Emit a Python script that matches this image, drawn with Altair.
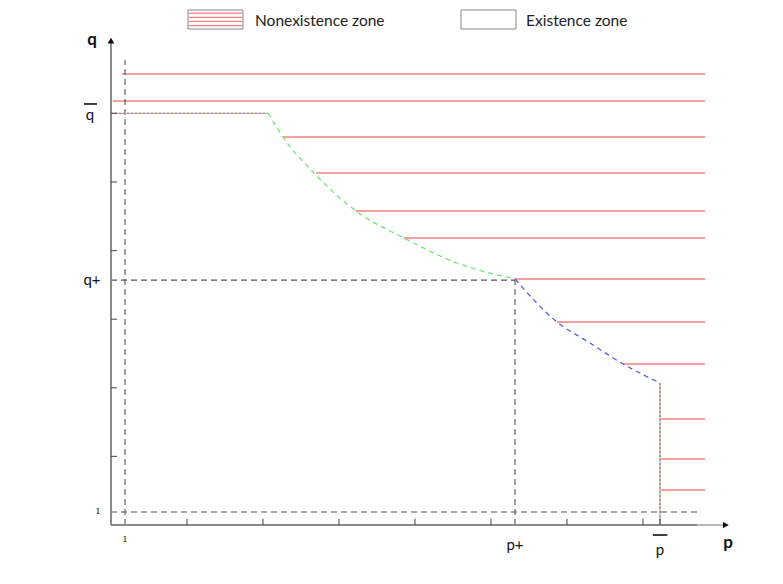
import altair as alt
import pandas as pd

# ---- values (abstract p / q units; 1 tick = 1 unit) ----
p_one, q_one = 0.184, 0.19          # positions of the "1" reference lines
p_plus, q_plus = 5.316, 3.57
p_bar, q_bar = 7.224, 6.0
x_ticks = [1, 2, 3, 4, 5, 6, 7]
y_ticks = [1, 2, 3, 4, 5, 6]

# nonexistence-zone hatch lines: height and left start (all end at red_end)
red_q = [6.574, 6.181, 5.656, 5.131, 4.577, 4.184, 3.586, 2.959, 2.347, 1.545, 0.962, 0.510]
red_start = [0.145, 0.026, 2.263, 2.697, 3.224, 3.855, 5.316, 5.868, 6.737, 7.237, 7.237, 7.237]
red_end = 7.816

# boundary curves
green_p = [2.066, 2.263, 2.671, 3.224, 3.855, 4.553, 5.316]
green_q = [6.006, 5.656, 5.131, 4.577, 4.184, 3.819, 3.586]
blue_p = [5.316, 5.868, 6.303, 6.737, 7.224]
blue_q = [3.586, 2.959, 2.653, 2.347, 2.070]

XD = [-1.3553, 8.737]
YD = [-0.7434, 7.536]
xs = alt.Scale(domain=XD, nice=False, zero=False)
ys = alt.Scale(domain=YD, nice=False, zero=False)


def seg(rows):
    return pd.DataFrame(rows, columns=["x", "x2", "y", "y2"])


def rules(df, **kw):
    return alt.Chart(df).mark_rule(**kw).encode(
        x=alt.X("x:Q", scale=xs, axis=None),
        x2="x2:Q",
        y=alt.Y("y:Q", scale=ys, axis=None),
        y2="y2:Q",
    )


layers = []

# red hatch lines
red_df = seg([[s, red_end, q, q] for s, q in zip(red_start, red_q)])
layers.append(rules(red_df, color="#f47f7f", strokeWidth=1.6))

# gray dashed guides
dash_df = seg([
    [p_one, p_one, 0, 6.778],
    [0, p_plus, q_plus, q_plus],
    [p_plus, p_plus, 0, q_plus],
    [0, 7.71, q_one, q_one],
])
layers.append(rules(dash_df, color="#555555", strokeWidth=1.1, strokeDash=[6, 4]))

# multicolour dotted boundary (top flat and right vertical)
dot_df = seg([[0, green_p[0], q_bar, q_bar], [p_bar, p_bar, 0, blue_q[-1]]])
layers.append(rules(dot_df, color="#e8b070", strokeWidth=1.4))
layers.append(rules(dot_df, color="#7f8fe8", strokeWidth=1.4, strokeDash=[2, 2]))

# curves
gdf = pd.DataFrame({"x": green_p, "y": green_q, "o": range(len(green_p))})
bdf = pd.DataFrame({"x": blue_p, "y": blue_q, "o": range(len(blue_p))})
for df, col in [(gdf, "#6fe86f"), (bdf, "#5a5af0")]:
    layers.append(alt.Chart(df).mark_line(color=col, strokeWidth=1.3, strokeDash=[5, 4],
                                          interpolate="monotone").encode(
        x=alt.X("x:Q", scale=xs, axis=None), y=alt.Y("y:Q", scale=ys, axis=None), order="o:Q"))

# axes
axis_df = seg([[0, 0, 0, 7.03], [0, 7.71, 0, 0]])
layers.append(rules(axis_df, color="#8a8a8a", strokeWidth=2))
layers.append(rules(seg([[7.71, 8.05, 0, 0]]), color="#8a8a8a", strokeWidth=1.2))
tick_df = seg([[t, t, 0, 0.09] for t in x_ticks + [p_bar]] + [[0, 0.08, t, t] for t in y_ticks])
layers.append(rules(tick_df, color="#555555", strokeWidth=1.1))

# arrow heads
arr = pd.DataFrame({"x": [0, 8.09], "y": [7.06, 0], "s": ["triangle-up", "triangle-right"]})
layers.append(alt.Chart(arr).mark_point(filled=True, color="#111111", size=45, opacity=1).encode(
    x=alt.X("x:Q", scale=xs, axis=None), y=alt.Y("y:Q", scale=ys, axis=None),
    shape=alt.Shape("s:N", scale=None)))

# overlines for q-bar and p-bar labels
ov_df = seg([[-0.355, -0.184, 6.137, 6.137], [7.13, 7.32, -0.146, -0.146]])
layers.append(rules(ov_df, color="#111111", strokeWidth=1.6))


def texts(df, **kw):
    return alt.Chart(df).mark_text(**kw).encode(
        x=alt.X("x:Q", scale=xs, axis=None), y=alt.Y("y:Q", scale=ys, axis=None), text="t:N")


FONT = "Lato"
bold = pd.DataFrame({"x": [-0.25, 8.118], "y": [7.07, -0.262], "t": ["q", "p"]})
layers.append(texts(bold, font=FONT, fontSize=17, fontWeight="bold", color="#111111", baseline="middle"))
reg = pd.DataFrame({"x": [-0.276, -0.25, p_plus, p_bar], "y": [5.98, q_plus, -0.29, -0.36],
                    "t": ["q", "q+", "p+", "p"]})
layers.append(texts(reg, font=FONT, fontSize=15, color="#111111", baseline="middle"))
ones = pd.DataFrame({"x": [-0.171, p_one], "y": [q_one, -0.219], "t": ["1", "1"]})
layers.append(texts(ones, font="DejaVu Serif", fontSize=8, color="#000000", baseline="middle"))

# legend
leg_box = seg([[1.013, 1.737, 7.230, 7.507], [4.605, 5.329, 7.230, 7.507]])
stripes = seg([[1.02, 1.73, q, q] for q in [7.46, 7.40, 7.34, 7.28]])
layers.append(alt.Chart(leg_box).mark_rect(fill="white", stroke="#888888", strokeWidth=1).encode(
    x=alt.X("x:Q", scale=xs, axis=None), x2="x2:Q", y=alt.Y("y:Q", scale=ys, axis=None), y2="y2:Q"))
layers.append(rules(stripes, color="#f47f7f", strokeWidth=1.3))
leg_txt = pd.DataFrame({"x": [1.895, 5.461], "y": [7.35, 7.35], "t": ["Nonexistence zone", "Existence zone"]})
layers.append(texts(leg_txt, font=FONT, fontSize=15.5, color="#222222", align="left", baseline="middle"))

chart = alt.layer(*layers).properties(
    width=767, height=568, padding=0, autosize=alt.AutoSizeParams(type="none"), background="white"
).configure_view(stroke=None)

chart.save("out.html", embed_options={"renderer": "svg", "actions": False})
